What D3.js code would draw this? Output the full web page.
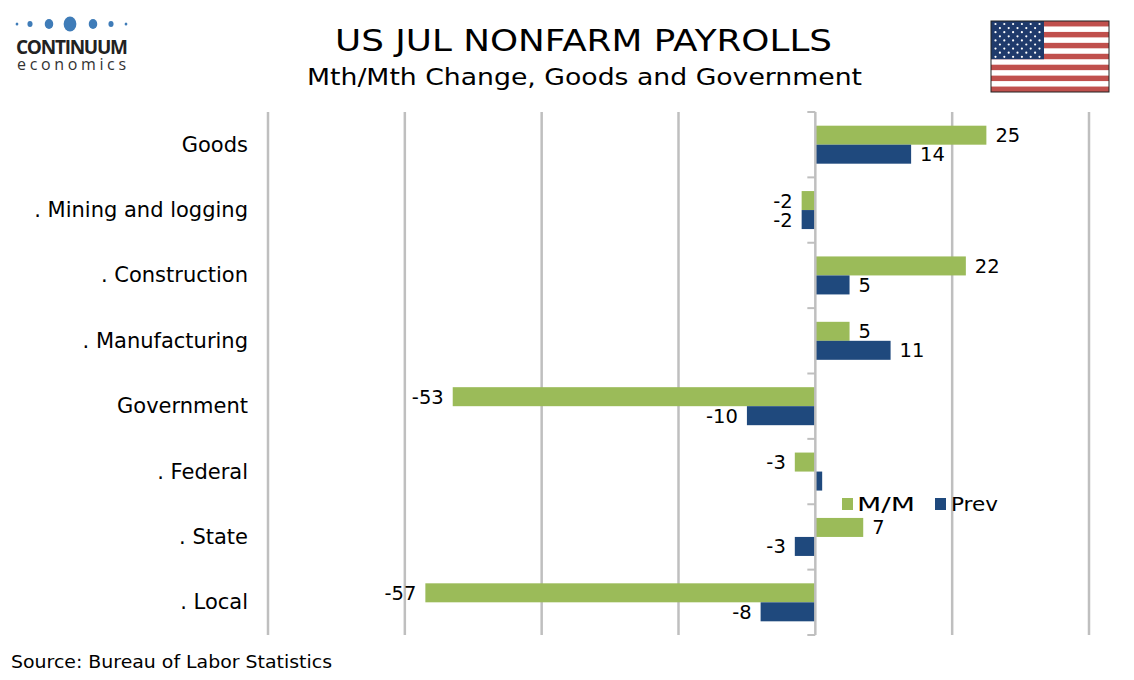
<!DOCTYPE html>
<html><head><meta charset="utf-8">
<script src="https://cdn.jsdelivr.net/npm/d3@7"></script>
<style>body{margin:0;background:#fff;}svg{display:block;font-family:"DejaVu Sans",Verdana,sans-serif;}</style>
</head><body>
<svg id="c" width="1134" height="680"></svg>
<script>
const categories = ["Goods", ". Mining and logging", ". Construction", ". Manufacturing", "Government", ". Federal", ". State", ". Local"];
const mm = [25, -2, 22, 5, -53, -3, 7, -57];
const prev = [14, -2, 5, 11, -10, 1, -3, -8];
const prevLabelShown = [true, true, true, true, true, false, true, true];
const xTicks = [-80, -60, -40, -20, 0, 20, 40];
const seriesNames = ["M/M", "Prev"];
const colors = ["#9bbb59", "#1f497d"];

const svg = d3.select("#c");
const x = d3.scaleLinear().domain([-80, 40]).range([268, 1089]);
const y = d3.scaleBand().domain(categories).range([112, 635]);
const bh = 19;

// gridlines
svg.append("g").selectAll("line").data(xTicks.filter(d => d !== 0)).join("line")
  .attr("x1", d => x(d)).attr("x2", d => x(d)).attr("y1", 112).attr("y2", 635)
  .attr("stroke", "#bfbfbf").attr("stroke-width", 2.5);

// bars
const rows = categories.map((c, i) => ({c, vals: [mm[i], prev[i]], show: [true, prevLabelShown[i]]}));
const g = svg.append("g");
rows.forEach(r => {
  r.vals.forEach((v, k) => {
    const yc = y(r.c) + y.bandwidth() / 2;
    const y0 = k === 0 ? yc - bh : yc;
    g.append("rect").attr("x", Math.min(x(0), x(v))).attr("width", Math.abs(x(v) - x(0)))
      .attr("y", y0).attr("height", bh).attr("fill", colors[k]);
    if (r.show[k]) {
      g.append("text").attr("x", v >= 0 ? x(v) + 9 : x(v) - 9).attr("y", y0 + bh / 2 + 7)
        .attr("text-anchor", v >= 0 ? "start" : "end").attr("font-size", 19.5).attr("fill", "#000").text(v);
    }
  });
});

// zero axis
svg.append("line").attr("x1", x(0)).attr("x2", x(0)).attr("y1", 112).attr("y2", 635)
  .attr("stroke", "#bfbfbf").attr("stroke-width", 2.5);
svg.append("g").selectAll("line").data(d3.range(categories.length + 1)).join("line")
  .attr("x1", x(0) - 8).attr("x2", x(0)).attr("y1", i => 112 + i * y.step()).attr("y2", i => 112 + i * y.step())
  .attr("stroke", "#bfbfbf").attr("stroke-width", 2);

// category labels
svg.append("g").selectAll("text").data(categories).join("text")
  .attr("x", 248).attr("y", d => y(d) + y.bandwidth() / 2 + 7).attr("text-anchor", "end")
  .attr("font-size", 21).attr("fill", "#000").text(d => d);

// legend
const lg = svg.append("g");
[[842, 857, 58], [935, 951, 47]].forEach((p, k) => {
  lg.append("rect").attr("x", p[0]).attr("y", 498).attr("width", 11).attr("height", 12).attr("fill", colors[k]);
  lg.append("text").attr("x", p[1]).attr("y", 511).attr("font-size", 20).attr("textLength", p[2]).attr("lengthAdjust", "spacingAndGlyphs").text(seriesNames[k]);
});

// titles
svg.append("text").attr("x", 335).attr("y", 51).attr("font-size", 30).attr("textLength", 497).attr("lengthAdjust", "spacingAndGlyphs").text("US JUL NONFARM PAYROLLS");
svg.append("text").attr("x", 307).attr("y", 85).attr("font-size", 23).attr("textLength", 555).attr("lengthAdjust", "spacingAndGlyphs").text("Mth/Mth Change, Goods and Government");
svg.append("text").attr("x", 11).attr("y", 668).attr("font-size", 17).attr("textLength", 321).attr("lengthAdjust", "spacingAndGlyphs").text("Source: Bureau of Labor Statistics");

// logo
const dots = [[17,1.6],[30,3],[49,5],[70,7.5],[93,5],[111,3],[126,1.6]];
dots.forEach(d => svg.append("ellipse").attr("cx", d[0]).attr("cy", 24).attr("rx", d[1]*0.85).attr("ry", d[1]).attr("fill", "#3f7cb8"));
svg.append("text").attr("x", 16).attr("y", 54).attr("font-size", 19).attr("font-weight", "bold").attr("fill", "#222")
  .attr("font-family", "'Open Sans',sans-serif").attr("textLength", 112).text("CONTINUUM");
svg.append("text").attr("x", 17).attr("y", 70).attr("font-size", 16).attr("fill", "#333")
  .attr("font-family", "'Open Sans',sans-serif").attr("textLength", 109).text("economics");

// flag
const fx = 991, fy = 21, fw = 118, fh = 71;
const fl = svg.append("g");
fl.append("rect").attr("x", fx).attr("y", fy).attr("width", fw).attr("height", fh).attr("fill", "#fff");
for (let i = 0; i < 13; i += 2) fl.append("rect").attr("x", fx).attr("y", fy + i * fh / 13).attr("width", fw).attr("height", fh / 13).attr("fill", "#c0504d");
fl.append("rect").attr("x", fx).attr("y", fy).attr("width", 53).attr("height", fh * 7 / 13).attr("fill", "#1f3a6b");
for (let r = 0; r < 9; r++) {
  const n = r % 2 === 0 ? 6 : 5;
  for (let c = 0; c < n; c++) {
    const sx = fx + 4.5 + (r % 2 === 0 ? 0 : 4.4) + c * 8.8, sy = fy + 3 + r * 4.1;
    fl.append("circle").attr("cx", sx).attr("cy", sy).attr("r", 1.1).attr("fill", "#fff");
  }
}
fl.append("rect").attr("x", fx).attr("y", fy).attr("width", fw).attr("height", fh).attr("fill", "none").attr("stroke", "#222").attr("stroke-width", 1);
</script>
</body></html>
